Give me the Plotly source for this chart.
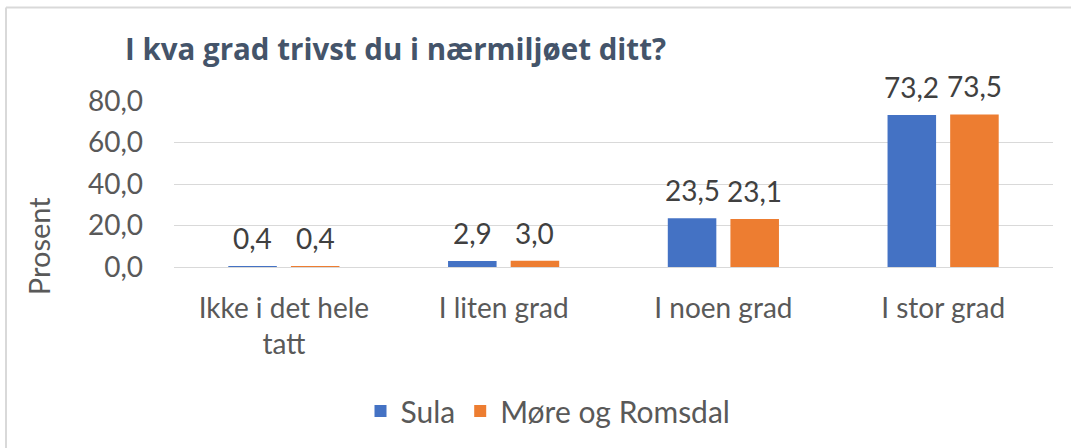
import plotly.graph_objects as go

categories = ["Ikke i det hele<br>tatt", "I liten grad", "I noen grad", "I stor grad"]
sula = [0.4, 2.9, 23.5, 73.2]
more_romsdal = [0.4, 3.0, 23.1, 73.5]
series_names = ["Sula", "Møre og Romsdal"]
y_ticks = [0, 20, 40, 60, 80]
y_tick_labels = ["0,0", "20,0", "40,0", "60,0", "80,0"]

FONT = "Lato"
FS = 28
W, H = 1071, 448
L, R, T, B = 174, 18, 101, 180
BARGAP, GROUPGAP = 0.43, 0.225

def fmt(v):
    return f"{v:.1f}".replace(".", ",")

fig = go.Figure()
colors = ["#4472C4", "#ED7D31"]
all_series = [sula, more_romsdal]
for name, vals, col in zip(series_names, all_series, colors):
    fig.add_trace(go.Bar(
        x=list(range(len(categories))), y=vals, name=name,
        marker_color=col, marker_line_width=0,
    ))

# value labels above bars, placed at each bar's centre in data coordinates
n = len(all_series)
slot = (1 - BARGAP) / n
for k, vals in enumerate(all_series):
    off = -(1 - BARGAP) / 2 + slot * (k + 0.5)
    for i, v in enumerate(vals):
        fig.add_annotation(x=i + off, y=v, text=fmt(v), showarrow=False,
                           yanchor="middle", yshift=28,
                           font=dict(family=FONT, size=FS, color="#404040"))

pw = W - L - R
ph = H - T - B

# y axis title (placed like the original, below the plot centre)
fig.add_annotation(text="Prosent", textangle=-90, showarrow=False,
                   xref="paper", yref="paper",
                   x=(38 - L) / pw, y=(H - B - 247) / ph,
                   xanchor="center", yanchor="middle",
                   font=dict(family=FONT, size=29, color="#595959"))

fig.update_layout(
    width=W, height=H,
    margin=dict(l=L, r=R, t=T, b=B),
    paper_bgcolor="white", plot_bgcolor="white",
    barmode="group", bargap=BARGAP, bargroupgap=GROUPGAP,
    font=dict(family=FONT, size=FS, color="#595959"),
    title=dict(text="<b>I kva grad trivst du i nærmiljøet ditt?</b>",
               font=dict(family="Open Sans", size=29.5, color="#44546A"),
               x=125 / W, xanchor="left", xref="container",
               y=1 - 50 / H, yanchor="middle", yref="container"),
    legend=dict(orientation="h", x=(548 - L) / pw, xanchor="center",
                y=(268 - 411) / ph, yanchor="middle",
                font=dict(family=FONT, size=30, color="#595959"),
                itemwidth=30, traceorder="normal"),
    xaxis=dict(tickvals=list(range(len(categories))), ticktext=categories,
               range=[-0.5, len(categories) - 0.5],
               showgrid=False, showline=False, zeroline=False, ticks="", ticklabelstandoff=22,
               tickfont=dict(family=FONT, size=FS, color="#595959")),
    yaxis=dict(range=[0, 80], tickvals=y_ticks, ticktext=y_tick_labels,
               showgrid=True, gridcolor="#D9D9D9", gridwidth=1,
               zeroline=True, zerolinecolor="#D9D9D9", zerolinewidth=1,
               showline=False, ticks="", ticklabelstandoff=30,
               tickfont=dict(family=FONT, size=FS, color="#595959")),
)

# chart border (top and left edges visible)
fig.add_shape(type="line", xref="paper", yref="paper",
              x0=(6 - L) / pw, x1=(W + 5 - L) / pw,
              y0=(H - B - 7) / ph, y1=(H - B - 7) / ph,
              line=dict(color="#D9D9D9", width=2), layer="below")
fig.add_shape(type="line", xref="paper", yref="paper",
              x0=(6 - L) / pw, x1=(6 - L) / pw,
              y0=(H - B - 7) / ph, y1=(H - B - H - 5) / ph,
              line=dict(color="#D9D9D9", width=2), layer="below")

fig.write_html("out.html", config={"displayModeBar": False},
               post_script="document.body.style.margin='0';document.body.style.overflow='hidden';")
